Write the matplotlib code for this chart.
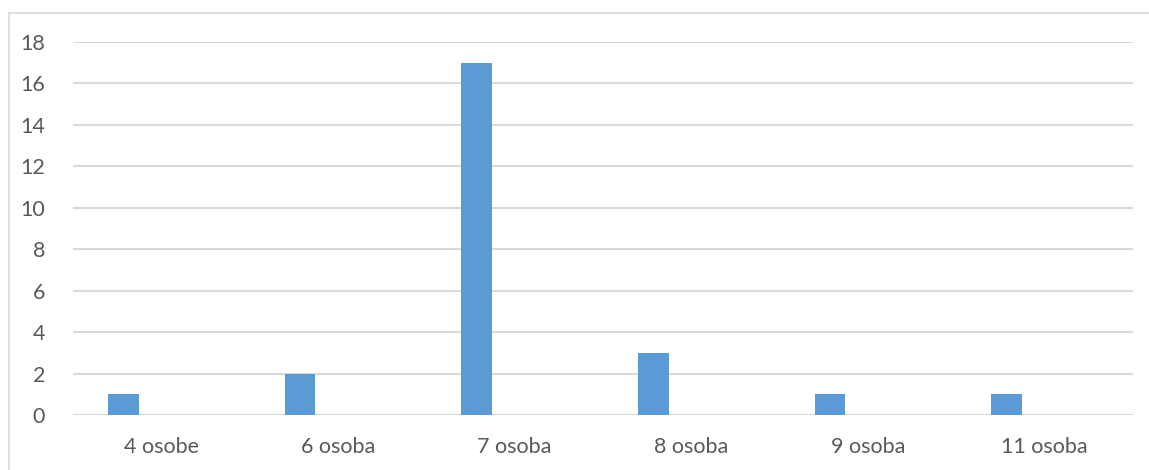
import numpy as np
import matplotlib.pyplot as plt
from matplotlib.lines import Line2D

categories = ["4 osobe", "6 osoba", "7 osoba", "8 osoba", "9 osoba", "11 osoba"]
values = [1, 2, 17, 3, 1, 1]
yticks = [0, 2, 4, 6, 8, 10, 12, 14, 16, 18]

plt.rcParams['font.family'] = ['Lato', 'DejaVu Sans']

fig = plt.figure(figsize=(11.49, 4.70), dpi=100)
ax = fig.add_axes([73 / 1149, 1 - 415 / 470, (1133 - 73) / 1149, (415 - 42) / 470])

x = np.arange(len(categories))
ax.bar(x - 0.215, values, width=0.175, color="#5b9bd5", zorder=3)

ax.set_xlim(-0.5, len(categories) - 0.5)
ax.set_ylim(0, 18)
ax.set_yticks(yticks)
ax.set_xticks(x)
ax.set_xticklabels(categories)
ax.grid(axis="y", color="#d9d9d9", linewidth=1.5, zorder=0)
for s in ax.spines.values():
    s.set_visible(False)
ax.tick_params(axis="both", length=0, labelsize=15.5, colors="#595959")
ax.tick_params(axis="y", pad=20)
ax.tick_params(axis="x", pad=16)

# chart frame (top and left edges visible)
fig.add_artist(Line2D([9 / 1149, 1], [1 - 13 / 470, 1 - 13 / 470], color="#d9d9d9", lw=1.2, transform=fig.transFigure))
fig.add_artist(Line2D([9 / 1149, 9 / 1149], [0, 1 - 13 / 470], color="#d9d9d9", lw=1.2, transform=fig.transFigure))

fig.savefig("out.png", dpi=100)
